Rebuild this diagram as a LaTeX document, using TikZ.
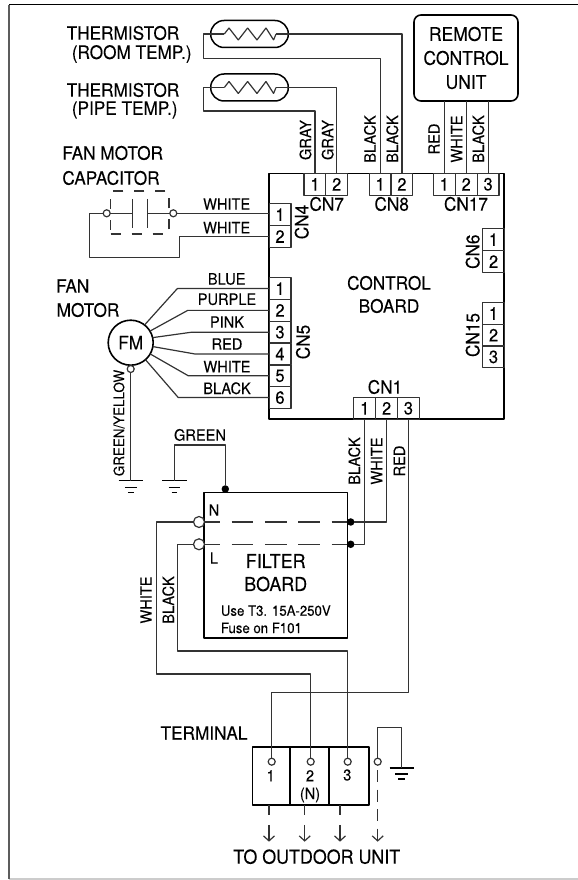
\documentclass[tikz,border=0pt]{standalone}
\usepackage{fontspec}
\setmainfont[FakeStretch=0.93,FakeBold=0.12]{TeX Gyre Heros}
\usetikzlibrary{arrows.meta}
\definecolor{wirecol}{rgb}{0.2,0.2,0.2}
\definecolor{framelow}{rgb}{0.8,0.8,0.8}
\tikzset{
  wire/.style={line width=1.2bp,color=wirecol},
  bus/.style={line width=1.6bp,color=black},
  lblbig/.style={inner sep=0pt,font=\fontsize{18.5bp}{20bp}\selectfont},
  lblwide/.style={inner sep=0pt,font=\fontsize{19.2bp}{20bp}\selectfont},
  lblsm/.style={inner sep=0pt,font=\fontsize{15.7bp}{17bp}\selectfont},
  lblnote/.style={inner sep=0pt,anchor=west,font=\fontsize{14.2bp}{15bp}\selectfont},
  pinbox/.style={draw=wirecol,line width=1.2bp,inner sep=0pt,outer sep=0pt,minimum width=21.8bp,minimum height=21.7bp,font=\fontsize{17.7bp}{18bp}\selectfont},
  termcirc/.style={circle,draw=wirecol,line width=1.2bp,fill=white,inner sep=0pt,outer sep=0pt,minimum size=7bp},
  bigcirc/.style={circle,draw=wirecol,line width=1.2bp,fill=white,inner sep=0pt,outer sep=0pt,minimum size=11bp},
  soldot/.style={circle,fill=black,inner sep=0pt,outer sep=0pt,minimum size=7.5bp},
  termbox/.style={draw=black,line width=1.6bp,inner sep=0pt,outer sep=0pt,minimum height=57.7bp},
  capsule/.style={draw=black,line width=1.5bp,inner sep=0pt,outer sep=0pt,minimum width=77.6bp,minimum height=27bp,rounded corners=13.4bp},
  outwire/.style={wire,-{Straight Barb[length=5bp,width=11bp]}},
}
\begin{document}
\begin{tikzpicture}[>=latex,line join=bevel,]
\useasboundingbox (0bp,0bp) rectangle (578bp,880bp);
  % Frame
  \coordinate (frame_tl) at (9bp,875.3bp);
  \coordinate (frame_tr) at (578bp,875.3bp);
  \coordinate (frame_bl) at (9bp,1bp);
  \coordinate (frame_br) at (578bp,1bp);
  \draw [line width=1.5bp,color=framelow] (frame_bl) -- (frame_br);
  \draw [line width=1.8bp,color=wirecol!80!white] (frame_bl) -- (frame_tl);
  \draw [line width=1.5bp,color=black] (frame_tl) -- (frame_tr);
  % Node: Control_board
  \node [draw=black,line width=1.6bp,inner sep=0pt,outer sep=0pt,minimum width=235bp,minimum height=245.5bp] (board) at (386.5bp,583.75bp) {};
  \node [lblbig] (board_t1) at (389bp,597bp) {CONTROL};
  \node [lblbig] (board_t2) at (389bp,574bp) {BOARD};
  % Node: CN7
  \node [pinbox] (cn7_1) at (314.9bp,695.7bp) {1};
  \node [pinbox] (cn7_2) at (336.7bp,695.7bp) {2};
  \node [lblbig] (cn7_t) at (326.7bp,676bp) {CN7};
  % Node: CN8
  \node [pinbox] (cn8_1) at (380.1bp,695.7bp) {1};
  \node [pinbox] (cn8_2) at (401.9bp,695.7bp) {2};
  \node [lblbig] (cn8_t) at (391.7bp,676bp) {CN8};
  % Node: CN17
  \node [pinbox] (cn17_1) at (444.3bp,695.7bp) {1};
  \node [pinbox] (cn17_2) at (466.2bp,695.7bp) {2};
  \node [pinbox] (cn17_3) at (488.1bp,695.7bp) {3};
  \node [lblbig] (cn17_t) at (466bp,676bp) {CN17};
  % Node: CN4
  \node [pinbox] (cn4_1) at (280bp,665.3bp) {1};
  \node [pinbox] (cn4_2) at (280bp,643.5bp) {2};
  \node [lblbig,rotate=90] (cn4_t) at (301.7bp,658bp) {CN4};
  % Node: CN5
  \node [pinbox] (cn5_1) at (280bp,591.4bp) {1};
  \node [pinbox] (cn5_2) at (280bp,569.6bp) {2};
  \node [pinbox] (cn5_3) at (280bp,547.8bp) {3};
  \node [pinbox] (cn5_4) at (280bp,526bp) {4};
  \node [pinbox] (cn5_5) at (280bp,504.2bp) {5};
  \node [pinbox] (cn5_6) at (280bp,482.4bp) {6};
  \node [lblbig,rotate=90] (cn5_t) at (303bp,538bp) {CN5};
  % Node: CN6
  \node [pinbox] (cn6_1) at (493.5bp,640.3bp) {1};
  \node [pinbox] (cn6_2) at (493.5bp,618.4bp) {2};
  \node [lblbig,rotate=90] (cn6_t) at (472.7bp,628.3bp) {CN6};
  % Node: CN15
  \node [pinbox] (cn15_1) at (493.5bp,566.5bp) {1};
  \node [pinbox] (cn15_2) at (493.5bp,544.8bp) {2};
  \node [pinbox] (cn15_3) at (493.5bp,523.1bp) {3};
  \node [lblbig,rotate=90] (cn15_t) at (472.7bp,545bp) {CN15};
  % Node: CN1
  \node [pinbox] (cn1_1) at (364.7bp,471.7bp) {1};
  \node [pinbox] (cn1_2) at (386.6bp,471.7bp) {2};
  \node [pinbox] (cn1_3) at (408.4bp,471.7bp) {3};
  \node [lblbig] (cn1_t) at (385bp,493bp) {CN1};
  % Node: Remote
  \node [draw=black,line width=1.6bp,inner sep=0pt,outer sep=0pt,minimum width=104bp,minimum height=86bp,rounded corners=7bp,align=center,font=\fontsize{18.8bp}{24bp}\selectfont] (rcu) at (466bp,822bp) {REMOTE\\CONTROL\\UNIT};
  % Node: Therm_room
  \node [capsule] (therm_room) at (249.5bp,846bp) {};
  \coordinate (room_zl) at (224.3bp,846bp);
  \coordinate (room_zr) at (276bp,846bp);
  \node [lblbig] (room_t1) at (123bp,847bp) {THERMISTOR};
  \node [lblbig] (room_t2) at (131.7bp,826bp) {(ROOM TEMP.)};
  % Node: Therm_pipe
  \node [capsule] (therm_pipe) at (249.5bp,792.5bp) {};
  \coordinate (pipe_zl) at (224.3bp,792.5bp);
  \coordinate (pipe_zr) at (276bp,792.5bp);
  \node [lblbig] (pipe_t1) at (123bp,790bp) {THERMISTOR};
  \node [lblbig] (pipe_t2) at (124.7bp,770bp) {(PIPE TEMP.)};
  % Node: Capacitor
  \node [draw=wirecol,line width=1.2bp,dash pattern=on 10bp off 11bp,inner sep=0pt,outer sep=0pt,minimum width=58.3bp,minimum height=43bp] (cap_box) at (139.85bp,667.5bp) {};
  \node [termcirc] (cap_l) at (106.7bp,666.7bp) {};
  \node [termcirc] (cap_r) at (173.3bp,666.7bp) {};
  \coordinate (cap_pl) at (132.3bp,666.7bp);
  \coordinate (cap_pr) at (147.3bp,666.7bp);
  \node [lblbig] (cap_t1) at (112.7bp,727bp) {FAN MOTOR};
  \node [lblbig] (cap_t2) at (111bp,702bp) {CAPACITOR};
  % Node: Fan_motor
  \node [circle,draw=black,line width=1.6bp,inner sep=0pt,outer sep=0pt,minimum size=45bp,font=\fontsize{18.5bp}{20bp}\selectfont] (fm) at (130.7bp,537.3bp) {FM};
  \node [termcirc] (fm_g) at (130.7bp,511bp) {};
  \node [lblbig] (fm_t1) at (72.7bp,594bp) {FAN};
  \node [lblbig] (fm_t2) at (88bp,570bp) {MOTOR};
  % Node: Filter_board
  \node [draw=black,line width=1.6bp,inner sep=0pt,outer sep=0pt,minimum width=143.3bp,minimum height=145.6bp] (fb) at (275.65bp,314.5bp) {};
  \node [soldot] (fb_gnd) at (225.3bp,391bp) {};
  \node [bigcirc] (fb_nl) at (199bp,358bp) {};
  \node [bigcirc] (fb_ll) at (199bp,335.7bp) {};
  \node [soldot] (fb_nr) at (350.7bp,358bp) {};
  \node [soldot] (fb_lr) at (350.7bp,335.7bp) {};
  \node [lblsm] (fb_n) at (214bp,370bp) {N};
  \node [lblsm] (fb_l) at (214bp,322bp) {L};
  \node [lblwide] (fb_t1) at (275.7bp,319bp) {FILTER};
  \node [lblwide] (fb_t2) at (275.7bp,296bp) {BOARD};
  \node [lblnote] (fb_t3) at (220.7bp,269.3bp) {Use T3. 15A-250V};
  \node [lblnote] (fb_t4) at (220.7bp,252bp) {Fuse on F101};
  % Node: Terminal
  \node [termbox,minimum width=37.7bp] (term_1) at (271.15bp,103.85bp) {};
  \node [termbox,minimum width=39bp] (term_2) at (309.5bp,103.85bp) {};
  \node [termbox,minimum width=39.7bp] (term_3) at (348.85bp,103.85bp) {};
  \node [termcirc] (term_1c) at (271.7bp,118.3bp) {};
  \node [termcirc] (term_2c) at (310.7bp,118.3bp) {};
  \node [termcirc] (term_3c) at (347.7bp,118.3bp) {};
  \node [termcirc] (term_4c) at (377.7bp,118.3bp) {};
  \node [lblsm] (term_n1) at (270.7bp,104.3bp) {1};
  \node [lblsm] (term_n2) at (310bp,104.3bp) {2};
  \node [lblsm] (term_nn) at (310bp,85bp) {(N)};
  \node [lblsm] (term_n3) at (347.3bp,105bp) {3};
  \node [lblbig] (term_t) at (204bp,147bp) {TERMINAL};
  \node [lblwide] (out_t) at (316.7bp,23.3bp) {TO OUTDOOR UNIT};
  % Node: Grounds
  \coordinate (gnd_fm) at (130.7bp,399.3bp);
  \coordinate (gnd_fb) at (174.3bp,399.3bp);
  \coordinate (gnd_t) at (401.7bp,111.7bp);
  \draw [bus] ([xshift=-12.2bp]gnd_fm) -- ([xshift=12.2bp]gnd_fm);
  \draw [bus] ([xshift=-5.8bp,yshift=-7bp]gnd_fm) -- ([xshift=5.8bp,yshift=-7bp]gnd_fm);
  \draw [bus] ([xshift=-2.8bp,yshift=-12bp]gnd_fm) -- ([xshift=2.8bp,yshift=-12bp]gnd_fm);
  \draw [bus] ([xshift=-12.2bp]gnd_fb) -- ([xshift=12.2bp]gnd_fb);
  \draw [bus] ([xshift=-5.8bp,yshift=-7bp]gnd_fb) -- ([xshift=5.8bp,yshift=-7bp]gnd_fb);
  \draw [bus] ([xshift=-2.8bp,yshift=-12bp]gnd_fb) -- ([xshift=2.8bp,yshift=-12bp]gnd_fb);
  \draw [bus] ([xshift=-12.2bp]gnd_t) -- ([xshift=12.2bp]gnd_t);
  \draw [bus] ([xshift=-6.5bp,yshift=-6bp]gnd_t) -- ([xshift=6.5bp,yshift=-6bp]gnd_t);
  \draw [bus] ([xshift=-3.3bp,yshift=-10.7bp]gnd_t) -- ([xshift=3.3bp,yshift=-10.7bp]gnd_t);
  % Edge: Zigzag resistors
  \draw [wire] (room_zl) -- ++(4.7bp,6bp) -- ++(9.3bp,-12bp) -- ++(9.3bp,12bp) -- ++(9.4bp,-12bp) -- ++(9bp,12bp) -- ++(7.6bp,-12bp) -- (room_zr);
  \draw [wire] (pipe_zl) -- ++(4.7bp,6bp) -- ++(9.3bp,-12bp) -- ++(9.3bp,12bp) -- ++(9.4bp,-12bp) -- ++(9bp,12bp) -- ++(7.6bp,-12bp) -- (pipe_zr);
  % Edge: Therm_room -> CN8
  \draw [wire] (room_zl) -- (203.3bp,846bp) -- (203.3bp,821.3bp) -| (cn8_1.north);
  \draw [wire] (room_zr) -| (cn8_2.north);
  \node [lblsm,rotate=90] (w_b81) at (370bp,741bp) {BLACK};
  \node [lblsm,rotate=90] (w_b82) at (392.3bp,741bp) {BLACK};
  % Edge: Therm_pipe -> CN7
  \draw [wire] (pipe_zl) -- (203.3bp,792.5bp) -- (203.3bp,769bp) -| (cn7_1.north);
  \draw [wire] (pipe_zr) -| (cn7_2.north);
  \node [lblsm,rotate=90] (w_g71) at (305.5bp,740bp) {GRAY};
  \node [lblsm,rotate=90] (w_g72) at (327.7bp,740bp) {GRAY};
  % Edge: Remote -> CN17
  \draw [wire] (cn17_1.north |- rcu.south) -- (cn17_1.north);
  \draw [wire] (cn17_2.north |- rcu.south) -- (cn17_2.north);
  \draw [wire] (cn17_3.north |- rcu.south) -- (cn17_3.north);
  \node [lblsm,rotate=90] (w_r171) at (434bp,741bp) {RED};
  \node [lblsm,rotate=90] (w_w172) at (456.7bp,741bp) {WHITE};
  \node [lblsm,rotate=90] (w_b173) at (478.3bp,741bp) {BLACK};
  % Edge: Capacitor -> CN4
  \draw [wire] (cap_l.east) -- (cap_pl);
  \draw [wire] (cap_pr) -- (cap_r.west);
  \draw [line width=1.4bp,color=wirecol] ([yshift=14.4bp]cap_pl) -- ([yshift=-14.4bp]cap_pl);
  \draw [line width=1.4bp,color=wirecol] ([yshift=14.4bp]cap_pr) -- ([yshift=-14.4bp]cap_pr);
  \draw [wire] (cap_r.east) -- (cap_r.east -| cn4_1.west);
  \draw [wire] (cap_l.west) -- (89.3bp,666.7bp) -- (89.3bp,622.3bp) -- (179.3bp,622.3bp) |- (cn4_2.west);
  \node [lblsm] (w_w41) at (226.7bp,676bp) {WHITE};
  \node [lblsm] (w_w42) at (226.7bp,652.3bp) {WHITE};
  % Edge: Fan_motor -> CN5
  \draw [wire] (fm.52) -- (177.3bp,591.4bp) -- (cn5_1.west);
  \draw [wire] (fm.31) -- (187.7bp,569.6bp) -- (cn5_2.west);
  \draw [wire] (fm.13) -- (191.7bp,547.8bp) -- (cn5_3.west);
  \draw [wire] (fm.-10) -- (195bp,526bp) -- (cn5_4.west);
  \draw [wire] (fm.-30) -- (188.3bp,504.2bp) -- (cn5_5.west);
  \draw [wire] (fm.-49) -- (178.3bp,482.4bp) -- (cn5_6.west);
  \node [lblsm] (w_blue) at (226.7bp,601bp) {BLUE};
  \node [lblsm] (w_purple) at (227bp,580.7bp) {PURPLE};
  \node [lblsm] (w_pink) at (227bp,558bp) {PINK};
  \node [lblsm] (w_red) at (227bp,536bp) {RED};
  \node [lblsm] (w_white) at (227bp,513.3bp) {WHITE};
  \node [lblsm] (w_black) at (227bp,491.7bp) {BLACK};
  % Edge: Fan_motor -> Ground
  \draw [wire] (fm_g.south) -- (gnd_fm);
  \node [inner sep=0pt,rotate=90,font=\fontsize{14.4bp}{15bp}\selectfont] (w_gy) at (119bp,457bp) {GREEN/YELLOW};
  % Edge: Filter_board -> Ground
  \draw [wire] (gnd_fb) -- (174.3bp,435bp) -| (fb_gnd.north);
  \node [lblsm] (w_green) at (200bp,445bp) {GREEN};
  % Edge: Filter_board inner lines
  \draw [wire,dash pattern=on 21.7bp off 11.6bp,dash phase=6.2bp] (fb_nl.east) -- (fb_nr.west);
  \draw [wire,dash pattern=on 21.7bp off 11.6bp,dash phase=6.2bp] (fb_ll.east) -- (fb_lr.west);
  % Edge: CN1 -> Filter_board
  \draw [wire] (cn1_1.south) |- (fb_lr.east);
  \draw [wire] (cn1_2.south) |- (fb_nr.east);
  \node [lblsm,rotate=90] (w_b11) at (354.3bp,419bp) {BLACK};
  \node [lblsm,rotate=90] (w_w12) at (376.7bp,419bp) {WHITE};
  \node [lblsm,rotate=90] (w_r13) at (399.3bp,419bp) {RED};
  % Edge: CN1 -> Terminal
  \draw [wire] (cn1_3.south) -- (408.4bp,187.7bp) -| (term_1c.north);
  % Edge: Filter_board -> Terminal
  \draw [wire] (fb_nl.west) -- (156.4bp,358bp) -- (156.4bp,206bp) -| (term_2c.north);
  \draw [wire] (fb_ll.west) -- (177.7bp,335.7bp) -- (177.7bp,229bp) -| (term_3c.north);
  \node [lblsm,rotate=90] (w_w2) at (146bp,280bp) {WHITE};
  \node [lblsm,rotate=90] (w_b3) at (168.3bp,280bp) {BLACK};
  % Edge: Terminal -> Ground
  \draw [wire] (term_4c.north) -- (377.7bp,152.7bp) -| (gnd_t);
  % Edge: Terminal -> Outdoor
  \coordinate (out_1) at (269bp,38.3bp);
  \coordinate (out_2) at (304.7bp,38.3bp);
  \coordinate (out_3) at (340bp,38.3bp);
  \coordinate (out_4) at (377.7bp,38.3bp);
  \draw [outwire,dash pattern=on 10bp off 10bp on 20bp] (out_1 |- term_1.south) -- (out_1);
  \draw [outwire,dash pattern=on 10bp off 10bp on 20bp] (out_2 |- term_2.south) -- (out_2);
  \draw [outwire,dash pattern=on 10bp off 10bp on 20bp] (out_3 |- term_3.south) -- (out_3);
  \draw [outwire,dash pattern=on 12bp off 7.5bp,dash phase=14.5bp] (term_4c.south) -- (out_4);
%
\end{tikzpicture}
\end{document}
